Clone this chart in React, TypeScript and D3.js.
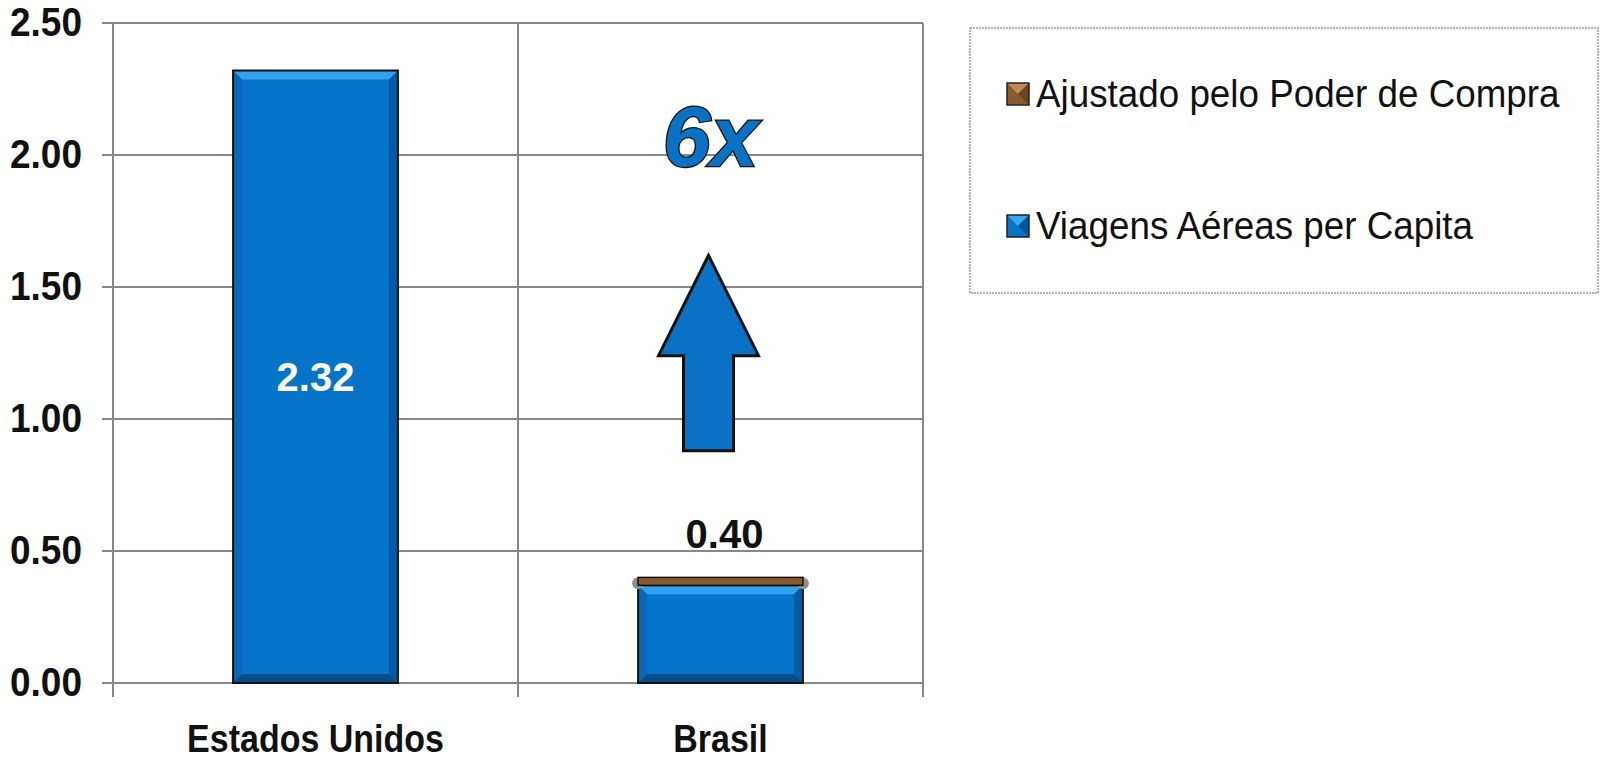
import React from 'react';
import * as d3 from 'd3';

// chart data
const categories = ['Estados Unidos', 'Brasil'];
const viagensPerCapita = [2.32, 0.37];
const ajustadoPoderCompra = [0, 0.03];
const yTicks = [0, 0.5, 1, 1.5, 2, 2.5];
const legendLabels = ['Ajustado pelo Poder de Compra', 'Viagens Aéreas per Capita'];

// "6x" growth annotation, in data units on the Brasil column
const growthLabel = '6x';
const growthLabelValue = 1.96;
const arrowTipValue = 1.62;
const arrowHeadValue = 1.24;
const arrowBottomValue = 0.88;

const W = 1601;
const H = 760;
const margin = { top: 23, right: 678, bottom: 77, left: 113 };
const FONT = '"Liberation Sans", Arial, Helvetica, sans-serif';

const BLUE = '#0674c9';
const BROWN = '#8a5a2c';

const fmt = d3.format('.2f');

function BevelBar({ x0, x1, y0, y1 }: { x0: number; x1: number; y0: number; y1: number }) {
  const b = Math.min(9, (y1 - y0) / 3);
  const p = (pts: number[][]) => pts.map(d => d.join(',')).join(' ');
  return (
    <g>
      <rect x={x0} y={y0} width={x1 - x0} height={y1 - y0} fill={BLUE} />
      <polygon points={p([[x0, y0], [x1, y0], [x1 - b, y0 + b], [x0 + b, y0 + b]])} fill="#33a2ee" />
      <polygon points={p([[x0, y0], [x0 + b, y0 + b], [x0 + b, y1 - b], [x0, y1]])} fill="#0669ba" />
      <polygon points={p([[x1, y0], [x1, y1], [x1 - b, y1 - b], [x1 - b, y0 + b]])} fill="#045ba2" />
      <polygon points={p([[x0, y1], [x0 + b, y1 - b], [x1 - b, y1 - b], [x1, y1]])} fill="#044d88" />
      <rect x={x0} y={y0} width={x1 - x0} height={y1 - y0} fill="none" stroke="#111" strokeWidth={2} />
    </g>
  );
}

export default function App() {
  const x = d3.scaleBand<string>().domain(categories).range([margin.left, W - margin.right]).padding(0);
  const y = d3.scaleLinear().domain([0, 2.5]).range([H - margin.bottom, margin.top]);
  const bw = x.bandwidth() * 0.407;
  const x0 = margin.left;
  const x1 = W - margin.right;
  const yBase = y(0);

  const brasilCx = (x('Brasil') as number) + x.bandwidth() / 2 - 12;

  const arrowPts = [
    [brasilCx, y(arrowTipValue)],
    [brasilCx + 50, y(arrowHeadValue)],
    [brasilCx + 25, y(arrowHeadValue)],
    [brasilCx + 25, y(arrowBottomValue)],
    [brasilCx - 25, y(arrowBottomValue)],
    [brasilCx - 25, y(arrowHeadValue)],
    [brasilCx - 50, y(arrowHeadValue)],
  ];

  return (
    <svg width={W} height={H} style={{ position: 'absolute', left: 0, top: 0, background: '#fff' }} fontFamily={FONT}>
      {/* horizontal gridlines + y tick labels */}
      {yTicks.map(t => (
        <g key={t}>
          <line x1={x0 - 11} x2={x1} y1={y(t)} y2={y(t)} stroke="#888" strokeWidth={2} />
          <text
            transform={`translate(82,${y(t) + 13}) scale(1,1.08)`}
            textAnchor="end"
            fontSize={37}
            fontWeight="bold"
            fill="#111"
          >
            {fmt(t)}
          </text>
        </g>
      ))}
      {/* vertical axis + category separators */}
      {[x0, ...categories.map(c => (x(c) as number) + x.bandwidth())].map((vx, i) => (
        <line key={i} x1={vx} x2={vx} y1={margin.top} y2={yBase + 14} stroke="#888" strokeWidth={2} />
      ))}

      {/* bars */}
      {categories.map((c, i) => {
        const cx = (x(c) as number) + x.bandwidth() / 2;
        const bx0 = cx - bw / 2;
        const bx1 = cx + bw / 2;
        const yTop = y(viagensPerCapita[i]);
        const total = viagensPerCapita[i] + ajustadoPoderCompra[i];
        const yTotal = y(total);
        return (
          <g key={c}>
            <BevelBar x0={bx0} x1={bx1} y0={yTop} y1={yBase} />
            {ajustadoPoderCompra[i] > 0 && (
              <g>
                <circle cx={bx0} cy={(yTop + yTotal) / 2 + 2} r={6} fill="#8f8f8f" />
                <circle cx={bx1} cy={(yTop + yTotal) / 2 + 2} r={6} fill="#8f8f8f" />
                <rect x={bx0} y={yTotal} width={bw} height={yTop - yTotal} fill={BROWN} stroke="#111" strokeWidth={1.5} />
              </g>
            )}
            {ajustadoPoderCompra[i] > 0 ? (
              <text x={cx + 4} y={yTotal - 29} textAnchor="middle" fontSize={40} fontWeight="bold" fill="#111">
                {fmt(total)}
              </text>
            ) : (
              <text x={cx} y={y(total / 2) + 14} textAnchor="middle" fontSize={40} fontWeight="bold" fill="#fff">
                {fmt(total)}
              </text>
            )}
            <text
              transform={`translate(${cx},752) scale(1,1.12)`}
              textAnchor="middle"
              fontSize={34}
              fontWeight="bold"
              fill="#111"
            >
              {c}
            </text>
          </g>
        );
      })}

      {/* growth annotation */}
      <polygon points={arrowPts.map(d => d.join(',')).join(' ')} fill="#0a72c4" stroke="#111" strokeWidth={3} />
      <text
        x={brasilCx + 2}
        y={y(growthLabelValue)}
        textAnchor="middle"
        fontSize={86}
        fontWeight="bold"
        fontStyle="italic"
        fill="#0a72c4"
        stroke="#111"
        strokeWidth={2.5}
        paintOrder="stroke"
      >
        {growthLabel}
      </text>

      {/* legend */}
      <rect x={970} y={28} width={628} height={265} fill="#fff" stroke="#9a9a9a" strokeWidth={1.5} strokeDasharray="2,1" />
      {legendLabels.map((lab, i) => {
        const ly = 94 + i * 132;
        const sx = 1007;
        const s = 22;
        const dark = i === 0 ? '#6b4420' : '#05579a';
        const light = i === 0 ? '#c08a52' : '#3aa6f0';
        const mid = i === 0 ? BROWN : BLUE;
        return (
          <g key={lab}>
            <rect x={sx} y={ly - s / 2} width={s} height={s} fill={mid} />
            <polygon points={`${sx},${ly - s / 2} ${sx + s},${ly - s / 2} ${sx + s / 2},${ly}`} fill={light} />
            <polygon points={`${sx + s},${ly - s / 2} ${sx + s},${ly + s / 2} ${sx + s / 2},${ly}`} fill={dark} />
            <rect x={sx} y={ly - s / 2} width={s} height={s} fill="none" stroke="#222" strokeWidth={1.5} />
            <text transform={`translate(1036,${ly + 13}) scale(1,1.05)`} fontSize={36.8} fill="#111">
              {lab}
            </text>
          </g>
        );
      })}
    </svg>
  );
}
